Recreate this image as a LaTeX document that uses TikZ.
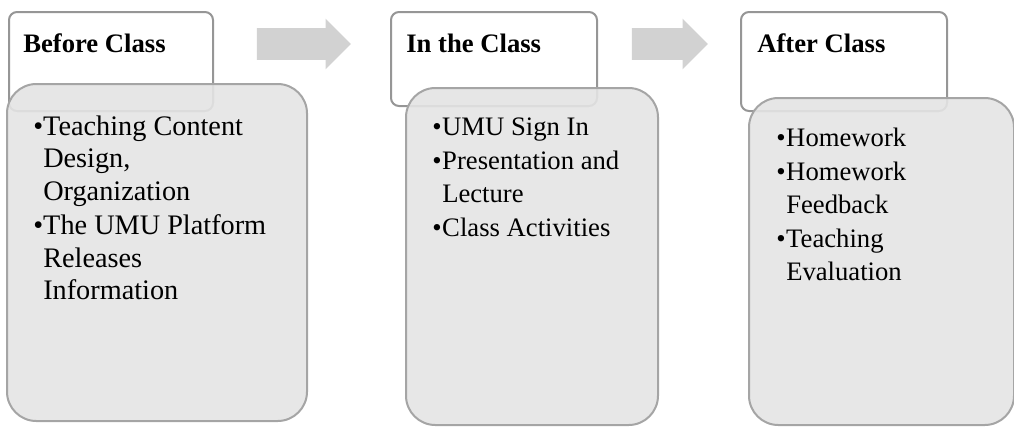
\documentclass[tikz,border=0pt]{standalone}
\usepackage{fontspec}
\setmainfont{Liberation Serif}
\usetikzlibrary{shapes.arrows}
\definecolor{hdrline}{RGB}{150,150,150}
\definecolor{bodyline}{RGB}{165,165,165}
\definecolor{bodyfill}{RGB}{228,228,228}
\definecolor{arrowfill}{RGB}{210,210,210}
\newcommand{\steplist}[1]{\begin{tabular}[t]{@{}p{7.5pt}@{}l@{}}#1\end{tabular}}
\begin{document}
\begin{tikzpicture}[x=0.75pt,y=-0.75pt,
		hdrbox/.style={draw=hdrline, line width=1.5pt, fill=white, rounded corners=6pt, anchor=north west, inner sep=0},
		bodybox/.style={draw=bodyline, line width=1.5pt, fill=bodyfill, fill opacity=0.9, rounded corners=22pt, anchor=north west, inner sep=0},
		hdrtext/.style={anchor=base west, inner sep=0, font=\fontsize{20}{24}\selectfont\bfseries},
		bodytext/.style={anchor=base west, inner sep=0, font=\fontsize{20}{24.4}\selectfont},
		flowarrow/.style={single arrow, fill=arrowfill, draw=none, inner xsep=0, inner ysep=11.625pt, single arrow head extend=7.125pt}]
			\useasboundingbox (0,0) rectangle (1014,426);

			%before class
			\node[hdrbox, minimum width=153pt, minimum height=74.25pt] (hdrBefore) at (8,11) {};

			\node[bodybox, minimum width=225pt, minimum height=252.75pt] (bodyBefore) at (6,83) {};

			\node[hdrtext] (titleBefore) at (23,52) {Before Class};

			\node[bodytext, font=\fontsize{21.2}{24.4}\selectfont] (listBefore) at (33,135) {\steplist{\textbullet & Teaching Content\\ & Design,\\ & Organization\\[1.5pt] \textbullet & The UMU Platform\\ & Releases\\ & Information}};

			%in the class
			\node[hdrbox, minimum width=154.5pt, minimum height=70.5pt] (hdrIn) at (390,11) {};

			\node[bodybox, minimum width=189pt, minimum height=252.75pt] (bodyIn) at (405,87) {};

			\node[hdrtext] (titleIn) at (406,52) {In the Class};

			\node[bodytext] (listIn) at (432,135) {\steplist{\textbullet & UMU Sign In\\[1.5pt] \textbullet & Presentation and\\ & Lecture\\[1.5pt] \textbullet & Class Activities}};

			%after class
			\node[hdrbox, minimum width=154.5pt, minimum height=74.25pt] (hdrAfter) at (740,11) {};

			\node[bodybox, minimum width=198.75pt, minimum height=245.25pt] (bodyAfter) at (748,97) {};

			\node[hdrtext] (titleAfter) at (757,52) {After Class};

			\node[bodytext] (listAfter) at (776,146) {\steplist{\textbullet & Homework\\[1.5pt] \textbullet & Homework\\ & Feedback\\[1.5pt] \textbullet & Teaching\\ & Evaluation}};

			%arrows
			\node[flowarrow, minimum height=70.5pt] (arrowOne) at (296,44) {};

			\node[flowarrow, minimum height=57pt] (arrowTwo) at (662,44) {};
\end{tikzpicture}
\end{document}
